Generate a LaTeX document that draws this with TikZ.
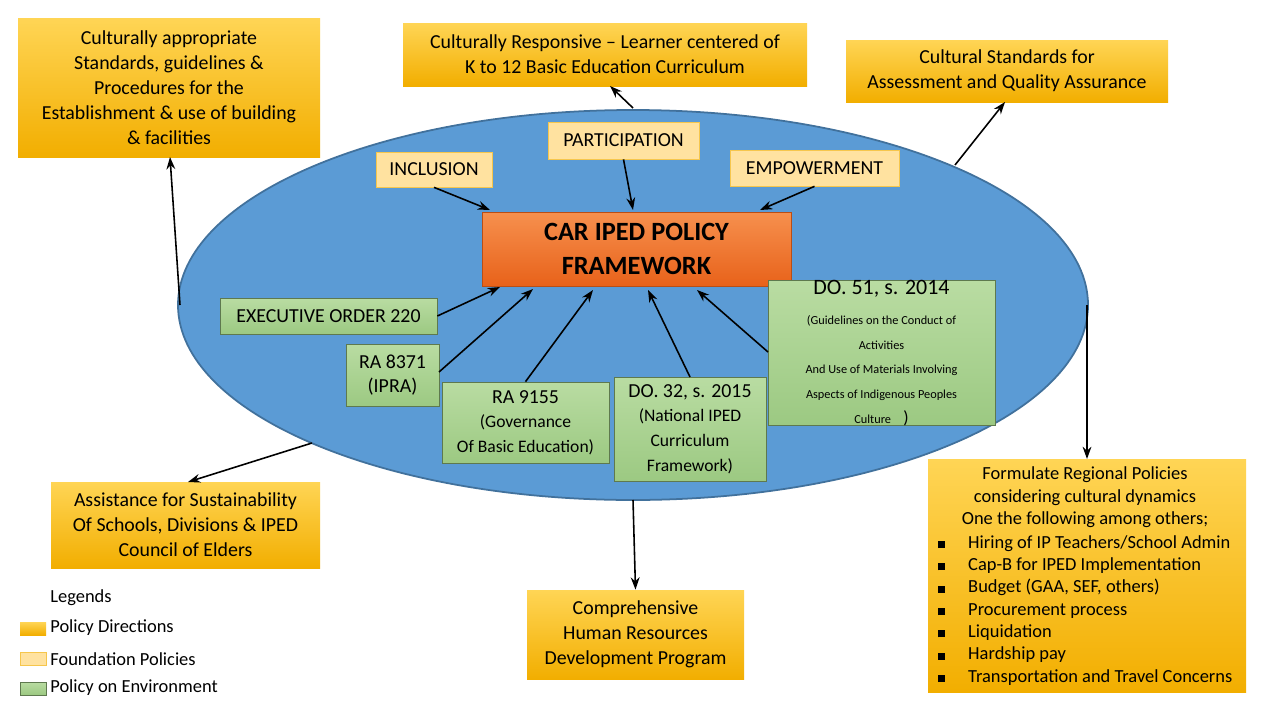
\documentclass[tikz,border=0pt]{standalone}
\usepackage{fontspec}
\setmainfont{Carlito}
\usetikzlibrary{arrows.meta,shapes.geometric}
\definecolor{goldT}{HTML}{FFD555}
\definecolor{goldB}{HTML}{F2AE00}
\definecolor{lightY}{HTML}{FFE2A0}
\definecolor{grT}{HTML}{B9DCA2}
\definecolor{grB}{HTML}{9CC982}
\definecolor{orT}{HTML}{F6904E}
\definecolor{orB}{HTML}{E8621A}
\definecolor{ell}{HTML}{5B9BD5}
\definecolor{ellB}{HTML}{41719C}
\tikzset{
 gold/.style={draw=none,top color=goldT,bottom color=goldB,align=center,inner sep=0pt,font=\fontsize{11.3}{14.3}\selectfont},
 found/.style={draw=goldB!70,fill=lightY,align=center,inner sep=0pt,font=\fontsize{11.3}{14}\selectfont},
 envb/.style={draw=grB!60!black,top color=grT,bottom color=grB,align=center,inner sep=0pt,font=\fontsize{11.3}{14}\selectfont},
 arr/.style={-{Stealth[length=7pt,width=5pt]},line width=0.9pt,black},
}
\newcommand{\bx}[7]{\node[#1,minimum width=#4*0.02cm-#2*0.02cm,minimum height=#5*0.02cm-#3*0.02cm] (#6) at ({(#2+#4)/2},{(#3+#5)/2}) {#7};}
\begin{document}
\begin{tikzpicture}[x=0.02cm,y=-0.02cm]
\useasboundingbox[fill=white] (0,0) rectangle (1280,720);
\node[ellipse,draw=ellB,line width=1pt,fill=ell,minimum width=910*0.02cm,minimum height=390*0.02cm,inner sep=0pt] (E) at (633,305) {};
\bx{gold}{18}{18}{320}{157}{tl}{Culturally appropriate\\Standards, guidelines \&\\Procedures for the\\Establishment \& use of building\\\& facilities}
\bx{gold}{403}{23}{807}{86}{tc}{Culturally Responsive -- Learner centered of\\K to 12 Basic Education Curriculum}
\bx{gold}{846}{40}{1168}{102}{tr}{Cultural Standards for\\Assessment and Quality Assurance}
\bx{found}{376}{152}{492}{187}{inc}{INCLUSION}
\bx{found}{548}{122}{699}{159}{par}{PARTICIPATION}
\bx{found}{730}{150}{899}{186}{emp}{EMPOWERMENT}
\node[draw=orB!80!black,top color=orT,bottom color=orB,minimum width=309*0.02cm,minimum height=74*0.02cm,align=center,inner sep=0pt,font=\fontsize{15}{19}\selectfont\bfseries] (car) at (636.5,249) {CAR IPED POLICY\\FRAMEWORK};
\bx{envb}{220}{298}{437}{334}{eo}{EXECUTIVE ORDER 220}
\bx{envb}{346}{344}{439}{406}{ra1}{RA 8371\\(IPRA)}
\bx{envb}{442}{382}{609}{463}{ra2}{RA 9155\\{\fontsize{10}{12.5}\selectfont(Governance}\\{\fontsize{10}{12.5}\selectfont Of Basic Education)}}
\bx{envb}{614}{377}{766}{481}{do32}{DO. 32, s. 2015\\{\fontsize{10}{13}\selectfont(National IPED}\\{\fontsize{10}{13}\selectfont Curriculum}\\{\fontsize{10}{13}\selectfont Framework)}}
\bx{envb}{768}{289}{995}{417}{do51}{{\fontsize{12.5}{15}\selectfont DO. 51, s. 2014}\\[3pt]{\fontsize{7}{9.6}\selectfont (Guidelines on the Conduct of}\\{\fontsize{7}{9.6}\selectfont Activities}\\{\fontsize{7}{9.6}\selectfont And Use of Materials Involving}\\{\fontsize{7}{9.6}\selectfont Aspects of Indigenous Peoples}\\{\fontsize{7}{9.6}\selectfont Culture\quad{\fontsize{10}{10}\selectfont)}}}
\bx{gold}{51}{482}{320}{568}{bl}{Assistance for Sustainability\\Of Schools, Divisions \& IPED\\Council of Elders}
\bx{gold}{527}{590}{744}{679}{bc}{Comprehensive\\Human Resources\\Development Program}
\bx{gold}{928}{459}{1246}{692}{br}{}
\node[align=center,font=\fontsize{10.5}{13}\selectfont,anchor=north,inner sep=0pt] (brt) at (1085,466) {Formulate Regional Policies\\considering cultural dynamics\\One the following among others;};
\node[align=left,font=\fontsize{10.5}{12.7}\selectfont,anchor=north west,inner sep=0pt] (brl) at (938,535) {%
\rule{4pt}{4pt}\hspace{13pt}Hiring of IP Teachers/School Admin\\
\rule{4pt}{4pt}\hspace{13pt}Cap-B for IPED Implementation\\
\rule{4pt}{4pt}\hspace{13pt}Budget (GAA, SEF, others)\\
\rule{4pt}{4pt}\hspace{13pt}Procurement process\\
\rule{4pt}{4pt}\hspace{13pt}Liquidation\\
\rule{4pt}{4pt}\hspace{13pt}Hardship pay\\
\rule{4pt}{4pt}\hspace{13pt}Transportation and Travel Concerns};
% legend
\node[anchor=west,font=\fontsize{10.5}{13}\selectfont,inner sep=0pt] (lg) at (50,598) {Legends};
\bx{gold}{20}{622}{46}{635}{s1}{}
\bx{found}{20}{652}{46}{665}{s2}{}
\bx{envb}{20}{682}{46}{695}{s3}{}
\node[anchor=west,font=\fontsize{10.5}{13}\selectfont,inner sep=0pt] (l1) at (50,628) {Policy Directions};
\node[anchor=west,font=\fontsize{10.5}{13}\selectfont,inner sep=0pt] (l2) at (50,659) {Foundation Policies};
\node[anchor=west,font=\fontsize{10.5}{13}\selectfont,inner sep=0pt] (l3) at (50,688) {Policy on Environment};
% arrows
\coordinate (a1) at (180,305); \draw[arr] (a1) -- (170,157);
\coordinate (a2) at (633,108); \draw[arr] (a2) -- (610,86);
\coordinate (a3) at (955,165); \draw[arr] (a3) -- (1005,102);
\draw[arr] (inc.south) -- (490,210);
\draw[arr] (par.south) -- (633,210);
\draw[arr] (emp.south) -- (760,210);
\draw[arr] (eo.east) -- (500,287);
\draw[arr] (439,372) -- (533,289);
\draw[arr] (ra2.north) -- (593,290);
\draw[arr] (690,377) -- (648,290);
\draw[arr] (768,352) -- (697,290);
\coordinate (a4) at (312,443); \draw[arr] (a4) -- (188,482);
\coordinate (a5) at (633,500); \draw[arr] (a5) -- (bc.north);
\coordinate (a6) at (1087,305); \draw[arr] (a6) -- (1087,459);
\end{tikzpicture}
\end{document}
